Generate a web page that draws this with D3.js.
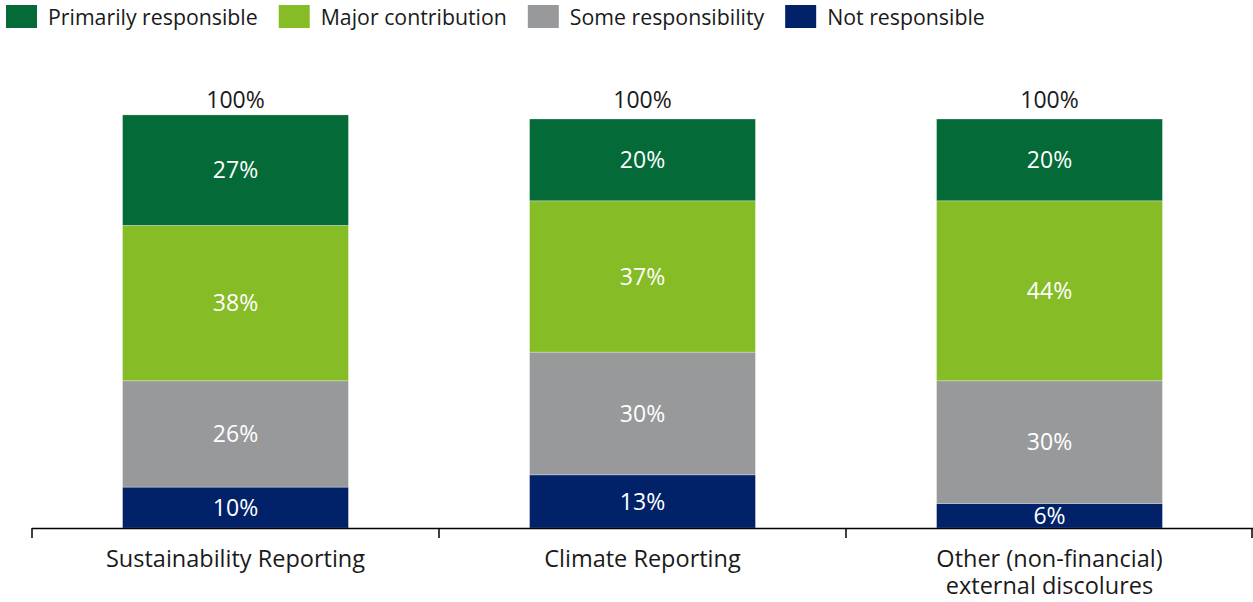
<!DOCTYPE html>
<html>
<head>
<meta charset="utf-8">
<script src="https://cdn.jsdelivr.net/npm/d3@7"></script>
<style>
  html, body { margin: 0; padding: 0; background: #fff; }
  svg { display: block; font-family: "Open Sans", "Noto Sans", sans-serif; }
</style>
</head>
<body>
<svg id="chart" width="1253" height="602"></svg>
<script>
// Categories (each may wrap onto several lines)
const categories = [
  ["Sustainability Reporting"],
  ["Climate Reporting"],
  ["Other (non-financial)", "external discolures"]
];
const seriesNames = ["Not responsible", "Some responsibility", "Major contribution", "Primarily responsible"];
const seriesColors = ["#012169", "#97999B", "#86BC25", "#046A38"];
// Values per series, in category order (percent)
const notResponsible = [10, 13, 6];
const someResponsibility = [26, 30, 30];
const majorContribution = [38, 37, 44];
const primarilyResponsible = [27, 20, 20];
const totals = [100, 100, 100];
const legendOrder = ["Primarily responsible", "Major contribution", "Some responsibility", "Not responsible"];

const svg = d3.select("#chart");
const W = 1253;

const rows = categories.map((c, i) => ({
  key: i,
  "Not responsible": notResponsible[i],
  "Some responsibility": someResponsibility[i],
  "Major contribution": majorContribution[i],
  "Primarily responsible": primarilyResponsible[i]
}));

const stack = d3.stack().keys(seriesNames)(rows);

const x = d3.scaleBand().domain(d3.range(categories.length))
  .range([32, 1253]).paddingInner(0.445).paddingOuter(0.2225);
const y = d3.scaleLinear().domain([0, 100]).range([528, 119]);
const color = d3.scaleOrdinal().domain(seriesNames).range(seriesColors);

// Stacked segments
const layers = svg.append("g").selectAll("g").data(stack).join("g")
  .attr("fill", d => color(d.key));
layers.selectAll("rect").data(d => d).join("rect")
  .attr("x", (d, i) => x(i))
  .attr("width", x.bandwidth())
  .attr("y", d => y(d[1]))
  .attr("height", d => y(d[0]) - y(d[1]))
  .attr("stroke", "rgba(255,255,255,0.35)")
  .attr("stroke-width", 0.8);

// Segment value labels
layers.selectAll("text").data(d => d.map(v => ({ v, key: d.key }))).join("text")
  .attr("x", (d, i) => x(i) + x.bandwidth() / 2)
  .attr("y", d => (y(d.v[0]) + y(d.v[1])) / 2)
  .attr("dy", "0.36em")
  .attr("text-anchor", "middle")
  .attr("fill", "#fff")
  .attr("font-size", 23)
  .text(d => (d.v[1] - d.v[0]) + "%");

// Total labels
svg.append("g").selectAll("text").data(totals).join("text")
  .attr("x", (d, i) => x(i) + x.bandwidth() / 2)
  .attr("y", (d, i) => y(d3.max([d, d3.sum(seriesNames, k => rows[i][k]) - 1])) - 11)
  .attr("text-anchor", "middle")
  .attr("fill", "#1a1a1a")
  .attr("font-size", 23)
  .text(d => d + "%");

// Category axis with ticks at band boundaries
const axisG = svg.append("g");
axisG.append("line").attr("x1", 32).attr("x2", W).attr("y1", 528.5).attr("y2", 528.5)
  .attr("stroke", "#000").attr("stroke-width", 1.5);
const bounds = d3.range(categories.length + 1).map(i => 32 + i * x.step());
axisG.selectAll("line.tick").data(bounds).join("line").attr("class", "tick")
  .attr("x1", d => Math.min(d, W - 1)).attr("x2", d => Math.min(d, W - 1))
  .attr("y1", 528).attr("y2", 538)
  .attr("stroke", "#000").attr("stroke-width", 1.5);
const catText = axisG.selectAll("text").data(categories).join("text")
  .attr("x", (d, i) => x(i) + x.bandwidth() / 2)
  .attr("y", 567)
  .attr("text-anchor", "middle")
  .attr("fill", "#1a1a1a")
  .attr("font-size", 23.5);
catText.selectAll("tspan").data((d, i) => d.map(t => ({ t, i }))).join("tspan")
  .attr("x", d => x(d.i) + x.bandwidth() / 2)
  .attr("dy", (d, j) => j === 0 ? 0 : 27)
  .text(d => d.t);

// Legend
const legend = svg.append("g");
let lx = 6;
legendOrder.forEach(name => {
  legend.append("rect").attr("x", lx).attr("y", 5).attr("width", 31).attr("height", 23)
    .attr("fill", color(name));
  const t = legend.append("text").attr("x", lx + 42).attr("y", 25)
    .attr("font-size", 21.3).attr("fill", "#1a1a1a").text(name);
  lx += 42 + t.node().getComputedTextLength() + 21;
});
</script>
</body>
</html>
